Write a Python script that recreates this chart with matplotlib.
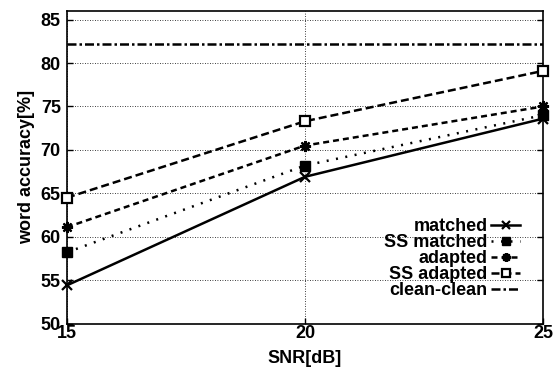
import matplotlib
matplotlib.use("Agg")
import matplotlib.pyplot as plt

snr = [15, 20, 25]
matched = [54.4, 66.9, 73.6]
ss_matched = [58.2, 68.2, 74.0]
adapted = [61.1, 70.5, 75.0]
ss_adapted = [64.5, 73.3, 79.1]
clean_clean = 82.2
yticks = [50, 55, 60, 65, 70, 75, 80, 85]
xticks = [15, 20, 25]

plt.rcParams['font.family'] = ['Liberation Sans', 'DejaVu Sans']
plt.rcParams['font.weight'] = 'bold'

fig = plt.figure(figsize=(5.59, 3.71), dpi=100)
ax = fig.add_axes([67/559, 1-323.5/371, (543-67)/559, (323.5-11)/371])

lw = 1.8
ax.plot(snr, matched, color='black', lw=lw, ls='-', marker='x', ms=7, mew=1.6,
        mfc='none', label='matched', clip_on=False, zorder=5)
ax.plot(snr, ss_matched, color='black', lw=lw, ls=(0, (0.8, 3.0)), marker='s', ms=6.5,
        mfc='black', label='SS matched', clip_on=False, zorder=5)
ax.plot(snr, adapted, color='black', lw=lw, ls=(0, (2.4, 1.6)), marker=(8, 2, 0), ms=8, mew=1.6,
        label='adapted', clip_on=False, zorder=5)
ax.plot(snr, ss_adapted, color='black', lw=lw, ls=(0, (3.2, 1.6)), marker='s', ms=6.5, mew=1.6,
        mfc='white', label='SS adapted', clip_on=False, zorder=5)
ax.plot([15, 25], [clean_clean, clean_clean], color='black', lw=lw, ls=(0, (3.6, 1.2, 1.0, 1.2)),
        label='clean-clean', zorder=4)

ax.set_xlim(15, 25)
ax.set_ylim(50, 86)
ax.set_xticks(xticks)
ax.set_yticks(yticks)
ax.tick_params(direction='in', length=4, width=1, labelsize=13, top=False, right=True)
ax.tick_params(axis='y', pad=4.5)
ax.tick_params(axis='x', pad=1)
for lab in ax.get_xticklabels() + ax.get_yticklabels():
    lab.set_fontweight('bold')
ax.grid(True, ls=(0, (1, 2)), color='black', lw=0.6)
for s in ax.spines.values():
    s.set_linewidth(1.2)

ax.set_xlabel('SNR[dB]', fontsize=13, fontweight='bold', labelpad=6)
ax.set_ylabel('word accuracy[%]', fontsize=13, fontweight='bold', labelpad=4)

leg = ax.legend(loc='upper right', bbox_to_anchor=(0.952, 0.338), frameon=False,
                markerfirst=False, fontsize=13, handlelength=1.6, handletextpad=0.2,
                labelspacing=-0.05, borderaxespad=0, borderpad=0, markerscale=0.8)
for t in leg.get_texts():
    t.set_fontweight('bold')

fig.savefig('out.png', dpi=100)
